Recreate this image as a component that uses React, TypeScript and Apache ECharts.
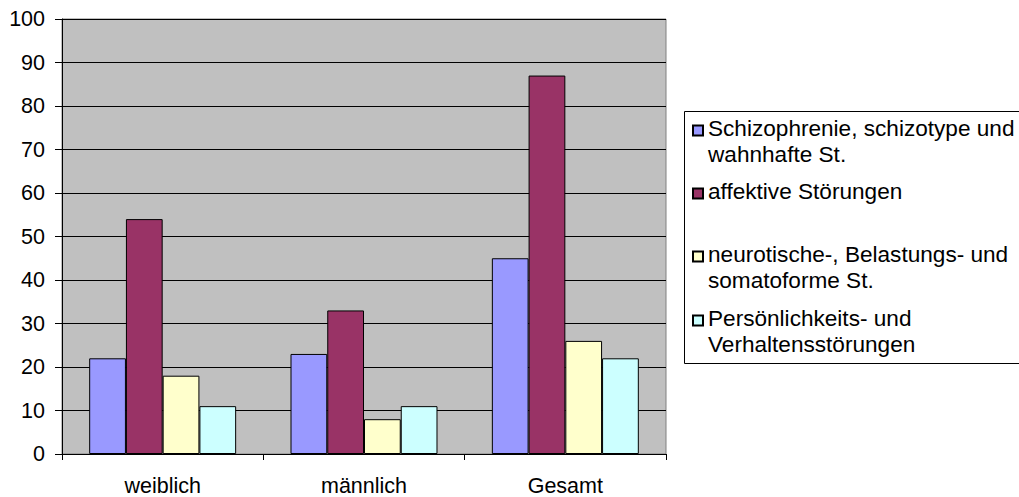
import React, { useEffect, useRef } from "react";
import * as echarts from "echarts";

// Groups shown on the x axis
const categories = ["weiblich", "männlich", "Gesamt"];

// Diagnosis groups (series) and their counts per group
const seriesNames = [
  "Schizophrenie, schizotype und wahnhafte St.",
  "affektive Störungen",
  "neurotische-, Belastungs- und somatoforme St.",
  "Persönlichkeits- und Verhaltensstörungen",
];
const legendLines = [
  "Schizophrenie, schizotype und\nwahnhafte St.",
  "affektive Störungen",
  "neurotische-, Belastungs- und\nsomatoforme St.",
  "Persönlichkeits- und\nVerhaltensstörungen",
];
const schizophrenie = [22, 23, 45];
const affektive = [54, 33, 87];
const neurotische = [18, 8, 26];
const persoenlichkeit = [11, 11, 22];
const seriesValues = [schizophrenie, affektive, neurotische, persoenlichkeit];
const seriesColors = ["#9999FF", "#993366", "#FFFFCC", "#CCFFFF"];

// Value axis range
const yMin = 0;
const yMax = 100;
const yStep = 10;

const FONT = "'Liberation Sans', Arial, Helvetica, sans-serif";

export default function App() {
  const ref = useRef<HTMLDivElement>(null);

  useEffect(() => {
    if (!ref.current) return;
    const chart = echarts.init(ref.current, null, { renderer: "svg" });

    // Legend: one block per entry; the square marker sits beside the first text line.
    const lineH = 26;
    const firstLineCenters = [127.5, 190.5, 253.5, 317.5];
    const legends = seriesNames.map((name, i) => {
      const lines = legendLines[i].split("\n").length;
      const boxH = lines * lineH;
      // invisible move-to points stretch the icon box to the text height,
      // the visible square is drawn next to the first line
      const sq = lineH / 2 - 3;
      const icon = `path://M0,0M0,${boxH}M0,${sq}h10v10h-10Z`;
      return {
        show: true,
        orient: "vertical" as const,
        left: 692,
        top: firstLineCenters[i] - lineH / 2,
        padding: 0,
        itemWidth: 10,
        itemHeight: boxH,
        icon,
        selectedMode: false,
        data: [name],
        formatter: (n: string) => legendLines[seriesNames.indexOf(n)],
        textStyle: {
          fontFamily: FONT,
          fontSize: 22.6,
          color: "#000",
          lineHeight: lineH,
        },
      };
    });

    chart.setOption({
      animation: false,
      backgroundColor: "#fff",
      textStyle: { fontFamily: FONT },
      grid: {
        left: 62,
        top: 19,
        width: 604,
        height: 436,
        show: true,
        backgroundColor: "#C0C0C0",
        borderColor: "#808080",
        borderWidth: 1,
      },
      legend: legends,
      graphic: [
        {
          type: "rect",
          z: -1,
          shape: { x: 684.5, y: 111.5, width: 400, height: 252 },
          style: { fill: "#fff", stroke: "#000", lineWidth: 1 },
        },
      ],
      xAxis: {
        type: "category",
        data: categories,
        boundaryGap: true,
        axisLine: { show: true, lineStyle: { color: "#000", width: 1 } },
        axisTick: { show: true, alignWithLabel: false, length: 6, lineStyle: { color: "#000" } },
        axisLabel: { color: "#000", fontSize: 21.5, fontFamily: FONT, margin: 21 },
        splitLine: { show: false },
      },
      yAxis: {
        type: "value",
        min: yMin,
        max: yMax,
        interval: yStep,
        axisLine: { show: true, lineStyle: { color: "#000", width: 1 } },
        axisTick: { show: true, inside: false, length: 7, lineStyle: { color: "#000" } },
        axisLabel: { color: "#000", fontSize: 21.5, fontFamily: FONT, margin: 17 },
        splitLine: { show: true, lineStyle: { color: "#000", width: 1 } },
      },
      series: seriesNames.map((name, i) => ({
        name,
        type: "bar",
        data: seriesValues[i],
        barGap: "0%",
        barCategoryGap: "27%",
        itemStyle: { color: seriesColors[i], borderColor: "#000", borderWidth: 1 },
      })),
    });

    return () => chart.dispose();
  }, []);

  return (
    <div
      ref={ref}
      style={{ position: "absolute", left: 0, top: 0, width: 1019, height: 497 }}
    />
  );
}
